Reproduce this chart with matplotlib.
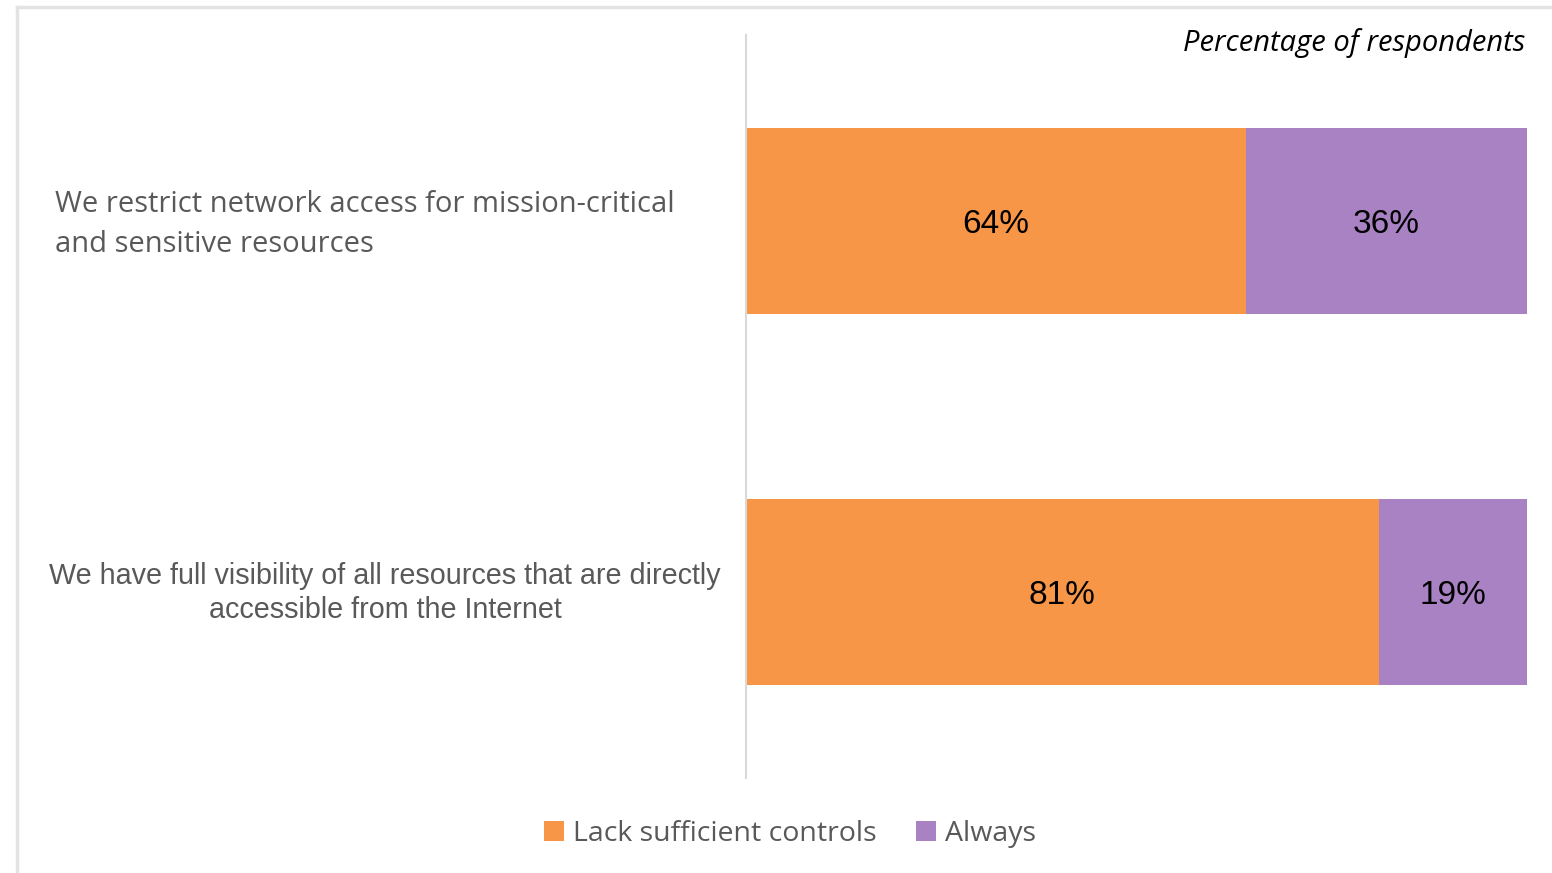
import matplotlib
matplotlib.use("Agg")
from matplotlib import pyplot as plt
from matplotlib.lines import Line2D

# Survey statements and the share of respondents per answer
statements = [
    "We restrict network access for mission-critical\nand sensitive resources",
    "We have full visibility of all resources that are directly\naccessible from the Internet",
]
lack_controls = [64, 81]
always = [36, 19]
series_names = ["Lack sufficient controls", "Always"]

orange = "#F79646"
purple = "#A982C4"
grey_text = "#595959"

fig = plt.figure(figsize=(15.52, 8.73), dpi=100)
fig.patch.set_facecolor("white")

# thin light frame around the panel
fig.add_artist(Line2D([17 / 1552, 1.0], [1 - 7 / 873, 1 - 7 / 873],
                      transform=fig.transFigure, color="#E3E3E3", lw=2.5))
fig.add_artist(Line2D([17 / 1552, 17 / 1552], [0.0, 1 - 7 / 873],
                      transform=fig.transFigure, color="#E3E3E3", lw=2.5))

ax = fig.add_axes([746 / 1552, 1 - 778 / 873, 781 / 1552, 743 / 873])
ypos = list(range(len(statements)))

b1 = ax.barh(ypos, lack_controls, height=0.5, color=orange, label=series_names[0])
b2 = ax.barh(ypos, always, left=lack_controls, height=0.5, color=purple, label=series_names[1])

# value labels in the middle of each segment
for i in ypos:
    ax.text(lack_controls[i] / 2, i + 0.01, f"{lack_controls[i]}%", ha="center", va="center",
            fontsize=24, family="Liberation Sans", color="black")
    ax.text(lack_controls[i] + always[i] / 2, i + 0.01, f"{always[i]}%", ha="center", va="center",
            fontsize=24, family="Liberation Sans", color="black")

ax.set_xlim(0, 100)
ax.set_ylim(1.5, -0.5)
ax.set_xticks([])
ax.set_yticks([])
for side in ["top", "right", "bottom"]:
    ax.spines[side].set_visible(False)
ax.spines["left"].set_color("#D9D9D9")
ax.spines["left"].set_linewidth(1.5)

# category labels on the left
fig.text(55 / 1552, 1 - 224 / 873, statements[0], ha="left", va="center",
         fontsize=21, family="Open Sans", color=grey_text, linespacing=1.5)
fig.text(385 / 1552, 1 - 593 / 873, statements[1], ha="center", va="center",
         fontsize=20.7, family="Liberation Sans", color=grey_text, linespacing=1.3)

fig.text(1525 / 1552, 1 - 43 / 873, "Percentage of respondents", ha="right", va="center",
         fontsize=21, family="Open Sans", style="italic", color="black")

fig.legend(handles=[b1, b2], labels=series_names, loc="center",
           bbox_to_anchor=(790 / 1552, 1 - 834 / 873), ncol=2, frameon=False,
           prop={"family": "Open Sans", "size": 20.5}, labelcolor=grey_text,
           handlelength=0.7, handleheight=0.7, handletextpad=0.3, columnspacing=1.4)

fig.savefig("out.png", dpi=100, facecolor="white")
